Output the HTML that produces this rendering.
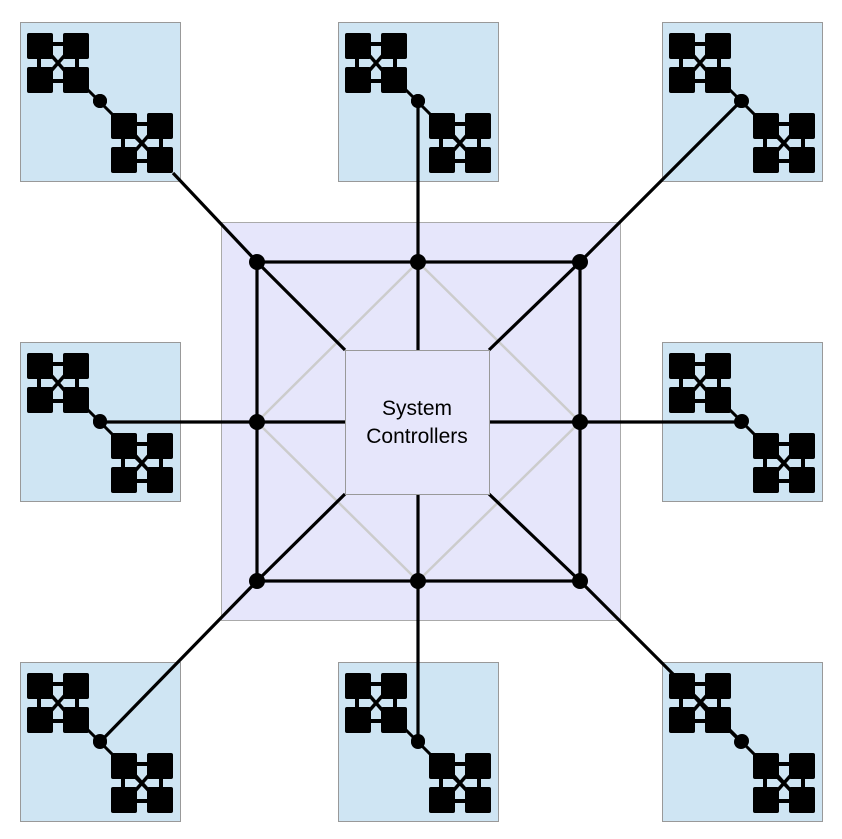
<!DOCTYPE html>
<html><head><meta charset="utf-8"><style>html,body{margin:0;padding:0;background:#fff}svg{display:block}</style></head><body>
<svg width="842" height="839" viewBox="0 0 842 839" xmlns="http://www.w3.org/2000/svg">
<defs>
<g id="ic">
<rect x="0" y="0" width="26" height="26" rx="2"/><rect x="36" y="0" width="26" height="26" rx="2"/>
<rect x="0" y="34" width="26" height="26" rx="2"/><rect x="36" y="34" width="26" height="26" rx="2"/>
<rect x="24" y="9" width="14" height="4"/><rect x="24" y="46" width="14" height="4"/>
<rect x="10" y="24" width="4" height="12"/><rect x="48" y="24" width="4" height="12"/>
<line x1="24" y1="22" x2="38" y2="38" stroke="#000" stroke-width="3.5"/>
<line x1="38" y1="22" x2="24" y2="38" stroke="#000" stroke-width="3.5"/>
</g>
<g id="bx">
<rect x="0.5" y="0.5" width="160" height="159" fill="#cfe5f3" stroke="#999"/>
<line x1="50" y1="50" x2="130" y2="130" stroke="#000" stroke-width="3"/>
<use href="#ic" x="7" y="11"/><use href="#ic" x="91" y="91"/>
<circle cx="80" cy="79" r="7"/>
</g>
</defs>
<rect x="221.5" y="222.5" width="399" height="398" fill="#e6e6fb" stroke="#aaa"/>
<g stroke="#ccc" stroke-width="2.5" fill="none">
<polygon points="418,262 580,422 418,581 257,422"/>
</g>
<g stroke="#000" stroke-width="3.2" fill="none">
<rect x="257" y="262" width="323" height="319"/>
<line x1="257" y1="262" x2="345" y2="350"/><line x1="580" y1="262" x2="489" y2="350"/>
<line x1="257" y1="581" x2="345" y2="494"/><line x1="580" y1="581" x2="489" y2="494"/>
<line x1="418" y1="262" x2="418" y2="350"/><line x1="418" y1="581" x2="418" y2="494"/>
<line x1="257" y1="422" x2="345" y2="422"/><line x1="580" y1="422" x2="489" y2="422"/>
</g>
<rect x="345.5" y="350.5" width="144" height="144" fill="#e6e6fb" stroke="#999"/>
<text x="417" y="415" font-family="Liberation Sans, sans-serif" font-size="21" text-anchor="middle">System</text>
<text x="417" y="443" font-family="Liberation Sans, sans-serif" font-size="21" text-anchor="middle">Controllers</text>
<use href="#bx" x="20" y="22"/><use href="#bx" x="338" y="22"/><use href="#bx" x="662" y="22"/>
<use href="#bx" x="20" y="342"/><use href="#bx" x="662" y="342"/>
<use href="#bx" x="20" y="662"/><use href="#bx" x="338" y="662"/><use href="#bx" x="662" y="662"/>
<g stroke="#000" stroke-width="3.2">
<line x1="173" y1="173" x2="257" y2="262"/>
<line x1="418" y1="101" x2="418" y2="262"/>
<line x1="741" y1="101" x2="580" y2="262"/>
<line x1="100" y1="422" x2="257" y2="422"/>
<line x1="741" y1="422" x2="580" y2="422"/>
<line x1="100" y1="742" x2="257" y2="581"/>
<line x1="418" y1="742" x2="418" y2="581"/>
<line x1="741" y1="742" x2="580" y2="581"/>
</g>
<g>
<circle cx="100" cy="101" r="7"/><circle cx="418" cy="101" r="7"/><circle cx="741" cy="101" r="7"/>
<circle cx="100" cy="422" r="7"/><circle cx="741" cy="422" r="7"/>
<circle cx="100" cy="742" r="7"/><circle cx="418" cy="742" r="7"/><circle cx="741" cy="742" r="7"/>
<circle cx="257" cy="262" r="8"/><circle cx="418" cy="262" r="8"/><circle cx="580" cy="262" r="8"/>
<circle cx="257" cy="422" r="8"/><circle cx="580" cy="422" r="8"/>
<circle cx="257" cy="581" r="8"/><circle cx="418" cy="581" r="8"/><circle cx="580" cy="581" r="8"/>
</g>
</svg>
</body></html>
